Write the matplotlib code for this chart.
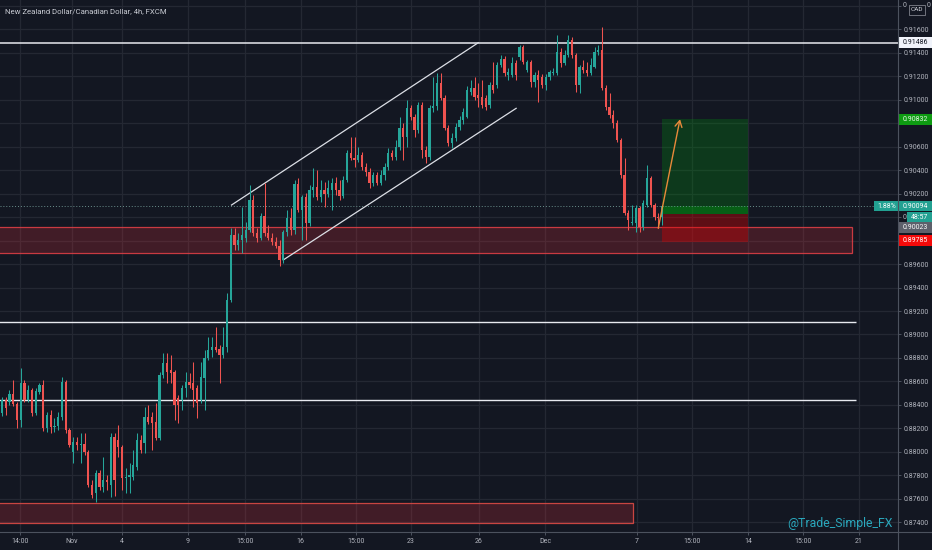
import matplotlib
matplotlib.use("Agg")
import matplotlib.pyplot as plt
from matplotlib.patches import Rectangle
from matplotlib.lines import Line2D
from matplotlib.transforms import blended_transform_factory

plt.rcParams['font.family'] = ['Roboto', 'DejaVu Sans']

# ---------------- data (4h candles, NZD/CAD) ----------------
opens = [
    0.88331, 0.88442, 0.88425, 0.88493, 0.88408, 0.88272, 0.88587, 0.88442, 0.88527, 0.88331,
    0.88510, 0.88570, 0.88203, 0.88314, 0.88212, 0.88220, 0.88297, 0.88595, 0.88186, 0.87999,
    0.88084, 0.88059, 0.88067, 0.87999, 0.87718, 0.87650, 0.87820, 0.87701, 0.87760, 0.87718,
    0.88127, 0.88101, 0.88042, 0.87777, 0.87786, 0.87786, 0.87871, 0.88101, 0.88076, 0.88297,
    0.88297, 0.88255, 0.88118, 0.88655, 0.88757, 0.88698, 0.88681, 0.88459, 0.88442, 0.88544,
    0.88595, 0.88587, 0.88544, 0.88442, 0.88629, 0.88800, 0.88868, 0.88894, 0.88877, 0.88825,
    0.88894, 0.89294, 0.89848, 0.89763, 0.89805, 0.89822, 0.89890, 0.90146, 0.89865, 0.89822,
    0.90010, 0.89865, 0.89822, 0.89788, 0.89754, 0.89635, 0.89873, 0.89993, 0.89890, 0.90282,
    0.90061, 0.90172, 0.89950, 0.90231, 0.90257, 0.90172, 0.90231, 0.90197, 0.90231, 0.90291,
    0.90231, 0.90180, 0.90316, 0.90546, 0.90504, 0.90487, 0.90529, 0.90427, 0.90385, 0.90291,
    0.90359, 0.90291, 0.90359, 0.90427, 0.90546, 0.90512, 0.90598, 0.90759, 0.90683, 0.90930,
    0.90853, 0.90742, 0.90955, 0.90572, 0.90512, 0.90930, 0.90947, 0.91143, 0.91015, 0.90759,
    0.90632, 0.90674, 0.90768, 0.90828, 0.90853, 0.91066, 0.91100, 0.91041, 0.91024, 0.91015,
    0.90955, 0.91126, 0.91126, 0.91296, 0.91347, 0.91211, 0.91211, 0.91313, 0.91364, 0.91450,
    0.91254, 0.91322, 0.91151, 0.91211, 0.91194, 0.91126, 0.91194, 0.91228, 0.91228, 0.91407,
    0.91313, 0.91381, 0.91509, 0.91381, 0.91126, 0.91279, 0.91254, 0.91228, 0.91279, 0.91407,
    0.91424, 0.91100, 0.90938, 0.90870, 0.90802, 0.90657, 0.90359, 0.90035, 0.89950, 0.89950,
    0.90078, 0.89916, 0.90103, 0.90333, 0.90103, 0.90001, 0.90001,
]
highs = [
    0.88468, 0.88468, 0.88527, 0.88612, 0.88425, 0.88715, 0.88612, 0.88570, 0.88544, 0.88544,
    0.88587, 0.88612, 0.88340, 0.88357, 0.88289, 0.88340, 0.88638, 0.88612, 0.88203, 0.88127,
    0.88127, 0.88161, 0.88161, 0.88016, 0.87760, 0.87846, 0.87846, 0.87956, 0.87803, 0.88161,
    0.88161, 0.88229, 0.88059, 0.87863, 0.87905, 0.88016, 0.88161, 0.88144, 0.88382, 0.88399,
    0.88340, 0.88416, 0.88681, 0.88842, 0.88842, 0.88825, 0.88698, 0.88485, 0.88570, 0.88681,
    0.88672, 0.88766, 0.88570, 0.88766, 0.88868, 0.88979, 0.88979, 0.89064, 0.88911, 0.89064,
    0.89354, 0.89907, 0.89907, 0.89865, 0.90086, 0.89959, 0.90274, 0.90189, 0.89907, 0.90035,
    0.90291, 0.89933, 0.89865, 0.89831, 0.89805, 0.89890, 0.90061, 0.90078, 0.90316, 0.90333,
    0.90189, 0.90206, 0.90274, 0.90419, 0.90402, 0.90316, 0.90299, 0.90316, 0.90333, 0.90342,
    0.90316, 0.90350, 0.90572, 0.90683, 0.90683, 0.90598, 0.90555, 0.90461, 0.90419, 0.90385,
    0.90385, 0.90402, 0.90461, 0.90589, 0.90572, 0.90657, 0.90853, 0.90802, 0.90998, 0.90955,
    0.90879, 0.90981, 0.90981, 0.90606, 0.90955, 0.91194, 0.91228, 0.91228, 0.91041, 0.90785,
    0.90717, 0.90802, 0.90862, 0.90930, 0.91117, 0.91168, 0.91194, 0.91143, 0.91168, 0.91041,
    0.91151, 0.91322, 0.91322, 0.91381, 0.91373, 0.91271, 0.91364, 0.91339, 0.91467, 0.91467,
    0.91339, 0.91339, 0.91237, 0.91254, 0.91220, 0.91220, 0.91254, 0.91271, 0.91552, 0.91441,
    0.91424, 0.91552, 0.91535, 0.91398, 0.91296, 0.91339, 0.91322, 0.91356, 0.91450, 0.91467,
    0.91620, 0.91126, 0.91058, 0.90913, 0.90828, 0.90674, 0.90504, 0.90061, 0.90103, 0.90103,
    0.90095, 0.90146, 0.90444, 0.90350, 0.90120, 0.90035, 0.90103,
]
lows = [
    0.88306, 0.88314, 0.88399, 0.88391, 0.88203, 0.88212, 0.88425, 0.88425, 0.88306, 0.88314,
    0.88493, 0.88178, 0.88169, 0.88161, 0.88169, 0.88186, 0.88272, 0.88161, 0.88042, 0.87905,
    0.88016, 0.87905, 0.87973, 0.87701, 0.87607, 0.87573, 0.87675, 0.87658, 0.87675, 0.87616,
    0.87624, 0.87956, 0.87675, 0.87650, 0.87650, 0.87760, 0.87846, 0.87990, 0.87990, 0.88238,
    0.88016, 0.88101, 0.88101, 0.88629, 0.88587, 0.88587, 0.88272, 0.88246, 0.88357, 0.88468,
    0.88544, 0.88382, 0.88289, 0.88416, 0.88357, 0.88783, 0.88808, 0.88851, 0.88587, 0.88800,
    0.88851, 0.89277, 0.89720, 0.89720, 0.89694, 0.89788, 0.89873, 0.89839, 0.89788, 0.89805,
    0.89839, 0.89805, 0.89763, 0.89737, 0.89584, 0.89609, 0.89839, 0.89848, 0.89856, 0.90044,
    0.89805, 0.89805, 0.89924, 0.90172, 0.90146, 0.90129, 0.90086, 0.90172, 0.90061, 0.90189,
    0.90146, 0.90163, 0.90299, 0.90487, 0.90427, 0.90470, 0.90402, 0.90350, 0.90248, 0.90265,
    0.90274, 0.90274, 0.90316, 0.90402, 0.90487, 0.90487, 0.90572, 0.90487, 0.90598, 0.90828,
    0.90683, 0.90717, 0.90504, 0.90461, 0.90487, 0.90896, 0.90913, 0.90998, 0.90742, 0.90606,
    0.90589, 0.90649, 0.90742, 0.90794, 0.90845, 0.91041, 0.90998, 0.90938, 0.90930, 0.90913,
    0.90930, 0.91058, 0.91100, 0.91279, 0.91202, 0.91168, 0.91194, 0.91168, 0.91339, 0.91305,
    0.91237, 0.91109, 0.91109, 0.90981, 0.91100, 0.91083, 0.91168, 0.91211, 0.91211, 0.91279,
    0.91296, 0.91364, 0.91356, 0.91066, 0.91058, 0.91228, 0.91202, 0.91211, 0.91271, 0.91381,
    0.91083, 0.90913, 0.90845, 0.90759, 0.90640, 0.90333, 0.90018, 0.89890, 0.89933, 0.89873,
    0.89873, 0.89890, 0.90086, 0.90086, 0.89976, 0.89907, 0.89933,
]
closes = [
    0.88442, 0.88374, 0.88493, 0.88408, 0.88272, 0.88587, 0.88442, 0.88527, 0.88331, 0.88519,
    0.88570, 0.88203, 0.88314, 0.88212, 0.88220, 0.88297, 0.88595, 0.88186, 0.88059, 0.88084,
    0.88059, 0.88067, 0.87999, 0.87718, 0.87633, 0.87820, 0.87701, 0.87760, 0.87743, 0.88127,
    0.87760, 0.88042, 0.87777, 0.87786, 0.87803, 0.87888, 0.88101, 0.88016, 0.88297, 0.88255,
    0.88246, 0.88118, 0.88655, 0.88757, 0.88681, 0.88672, 0.88399, 0.88399, 0.88544, 0.88595,
    0.88570, 0.88527, 0.88416, 0.88638, 0.88800, 0.88868, 0.88894, 0.88868, 0.88825, 0.88894,
    0.89294, 0.89848, 0.89763, 0.89805, 0.89848, 0.89890, 0.90146, 0.89865, 0.89822, 0.90010,
    0.89865, 0.89822, 0.89788, 0.89754, 0.89635, 0.89873, 0.89993, 0.89890, 0.90282, 0.90061,
    0.90172, 0.89950, 0.90231, 0.90257, 0.90172, 0.90231, 0.90197, 0.90248, 0.90291, 0.90231,
    0.90180, 0.90316, 0.90546, 0.90504, 0.90487, 0.90529, 0.90427, 0.90385, 0.90291, 0.90359,
    0.90291, 0.90359, 0.90427, 0.90546, 0.90512, 0.90598, 0.90759, 0.90683, 0.90930, 0.90853,
    0.90742, 0.90955, 0.90572, 0.90512, 0.90930, 0.90947, 0.91143, 0.91015, 0.90759, 0.90632,
    0.90674, 0.90768, 0.90828, 0.90896, 0.91083, 0.91100, 0.91024, 0.91015, 0.90955, 0.90938,
    0.91126, 0.91083, 0.91296, 0.91347, 0.91228, 0.91237, 0.91313, 0.91211, 0.91450, 0.91322,
    0.91322, 0.91151, 0.91211, 0.91168, 0.91126, 0.91194, 0.91237, 0.91237, 0.91407, 0.91313,
    0.91381, 0.91509, 0.91381, 0.91126, 0.91279, 0.91254, 0.91228, 0.91296, 0.91407, 0.91424,
    0.91100, 0.90938, 0.90870, 0.90802, 0.90657, 0.90359, 0.90035, 0.89976, 0.89959, 0.90078,
    0.89916, 0.90120, 0.90333, 0.90103, 0.90001, 0.89993, 0.90095,
]

title = "New Zealand Dollar/Canadian Dollar, 4h, FXCM"
watermark = "@Trade_Simple_FX"
time_tick_pos = [4.8, 18.7, 32.0, 49.6, 64.8, 79.7, 94.4, 109.1, 127.2, 144.8,
                 169.2, 184.0, 198.9, 213.7, 228.5]
time_tick_labels = ["14:00", "Nov", "4", "9", "15:00", "16", "15:00", "23", "26", "Dec",
                    "7", "15:00", "14", "15:00", "21"]
price_ticks = [0.874, 0.876, 0.878, 0.880, 0.882, 0.884, 0.886, 0.888, 0.890, 0.892,
               0.894, 0.896, 0.898, 0.900, 0.902, 0.904, 0.906, 0.908, 0.910, 0.912,
               0.914, 0.916, 0.918]
# tick labels hidden behind the coloured price-scale badges
covered_ticks = [0.898, 0.900, 0.908, 0.918]

resistance_level = 0.91486
support_levels = [0.89109, 0.88442]
support_end = 227.7
zone_upper = [0.89692, 0.89919]
zone_upper_end = 226.7
zone_lower = [0.87391, 0.87562]
zone_lower_end = 168.2
channel_upper_x = [61.2, 127.0]
channel_upper_y = [0.90103, 0.91486]
channel_lower_x = [75.0, 137.1]
channel_lower_y = [0.89635, 0.90927]
position_x = [175.9, 198.9]
entry_price = 0.90023
target_price = 0.90832
stop_price = 0.89785
last_price = 0.90094
change_pct = "1.88%"
countdown = "48:57"
arrow_x = [175.0, 180.8]
arrow_y = [0.89905, 0.90834]

# ---------------- style ----------------
BG = '#131722'
GRID = '#242833'
AXC = '#4c525e'
TXT = '#b2b5be'
UP = '#26a69a'
DN = '#ef5350'

W, H = 932, 550
PLOT_R, PLOT_B = 898, 532

fig = plt.figure(figsize=(W / 100, H / 100), dpi=100, facecolor=BG)
ax = fig.add_axes([0, (H - PLOT_B) / H, PLOT_R / W, PLOT_B / H])
ax.set_facecolor(BG)
ylo, yhi = 0.87317, 0.91850
ax.set_xlim(-0.533, 238.93)
ax.set_ylim(ylo, yhi)
ppx = (yhi - ylo) / PLOT_B  # price per pixel

# grid / ticks
ax.set_axisbelow(True)
ax.set_xticks(time_tick_pos)
ax.set_xticklabels(time_tick_labels)
ax.set_yticks(price_ticks)
ax.set_yticklabels(["" if any(abs(p - q) < 1e-9 for q in covered_ticks) else f"{p:.5f}"
                    for p in price_ticks])
ax.yaxis.tick_right()
ax.grid(True, color=GRID, lw=0.9)
ax.tick_params(axis='x', length=2.2, width=0.7, color=AXC, labelcolor=TXT,
               labelsize=5, pad=2.0)
ax.tick_params(axis='y', length=2.2, width=0.7, color=AXC, labelcolor=TXT,
               labelsize=5, pad=1.6)
for s in ['top', 'left', 'right', 'bottom']:
    ax.spines[s].set_visible(False)

# frame lines of the price / time scales
fig.add_artist(Line2D([0, 1], [(H - PLOT_B) / H] * 2, transform=fig.transFigure,
                      color=AXC, lw=0.8))
fig.add_artist(Line2D([PLOT_R / W] * 2, [0, 1], transform=fig.transFigure,
                      color=AXC, lw=0.8))

# zones
ax.add_patch(Rectangle((-5, zone_upper[0]), zone_upper_end + 5, zone_upper[1] - zone_upper[0],
                       facecolor=(0.78, 0.18, 0.22, 0.26), edgecolor=(0.90, 0.25, 0.28, 0.85),
                       lw=0.9, zorder=1))
ax.add_patch(Rectangle((-5, zone_lower[0]), zone_lower_end + 5, zone_lower[1] - zone_lower[0],
                       facecolor=(0.78, 0.18, 0.22, 0.26), edgecolor=(0.90, 0.30, 0.28, 0.85),
                       lw=0.9, zorder=1))

# position tool
pw = position_x[1] - position_x[0]
ax.add_patch(Rectangle((position_x[0], entry_price), pw, target_price - entry_price,
                       facecolor=(0.0, 0.58, 0.05, 0.28), edgecolor='none', zorder=1.2))
ax.add_patch(Rectangle((position_x[0], entry_price), pw, last_price - entry_price,
                       facecolor=(0.0, 0.60, 0.05, 0.40), edgecolor='none', zorder=1.3))
ax.add_patch(Rectangle((position_x[0], stop_price), pw, entry_price - stop_price,
                       facecolor=(0.85, 0.0, 0.0, 0.38), edgecolor='none', zorder=1.2))

# horizontal levels
ax.axhline(resistance_level, color='#e8eaf0', lw=1.1, zorder=2)
ax.hlines(support_levels, -1, support_end, color='#e8eaf0', lw=1.0, zorder=2)
ax.axhline(last_price, color='#6a8f8c', lw=0.7, ls=(0, (1, 2)), zorder=2)

# channel
ax.plot(channel_upper_x, channel_upper_y, color='#dcdfe6', lw=0.9, zorder=2)
ax.plot(channel_lower_x, channel_lower_y, color='#dcdfe6', lw=0.9, zorder=2)

# candles
idx = list(range(len(closes)))
cols = [UP if c >= o else DN for o, c in zip(opens, closes)]
ax.vlines(idx, lows, highs, colors=cols, lw=0.75, zorder=3)
bottoms = [min(o, c) for o, c in zip(opens, closes)]
heights = [max(abs(c - o), ppx * 0.9) for o, c in zip(opens, closes)]
ax.bar(idx, heights, bottom=bottoms, width=0.66, color=cols, linewidth=0, zorder=4)

# arrow
ax.annotate('', xy=(arrow_x[1], arrow_y[1]), xytext=(arrow_x[0], arrow_y[0]),
            arrowprops=dict(arrowstyle='->,head_length=0.45,head_width=0.25',
                            color='#e8893a', lw=1.0, shrinkA=0, shrinkB=0), zorder=5)

# price-scale labels
tr = blended_transform_factory(fig.transFigure, ax.transData)


def box(price, x0, x1, text, fc, tc, h_px=10.5, ec='none', fs=5):
    ax.add_patch(Rectangle((x0 / W, price - h_px * ppx / 2), (x1 - x0) / W, h_px * ppx,
                           transform=tr, facecolor=fc, edgecolor=ec, lw=0.5,
                           clip_on=False, zorder=10))
    ax.text((x0 + x1) / 2 / W, price, text, transform=tr, ha='center', va='center',
            color=tc, fontsize=fs, clip_on=False, zorder=11)


def frag(price, x, text, ha):
    ax.text(x / W, price, text, transform=tr, ha=ha, va='center', color=TXT,
            fontsize=5, clip_on=False, zorder=9)


box(resistance_level, 898.5, 932, f"{resistance_level:.5f}", '#f0f3fa', '#131722')
box(target_price, 898.5, 932, f"{target_price:.5f}", '#0e9b12', '#e9f7e9')
box(last_price, 898.5, 932, f"{last_price:.5f}", '#22a192', '#ffffff')
box(last_price, 874.3, 898.5, change_pct, '#22a192', '#ffffff')
box(last_price - 11 * ppx, 906.7, 932, countdown, '#22a192', '#ffffff')
box(entry_price - 13 * ppx, 898.5, 932, f"{entry_price:.5f}", '#5d606b', '#ffffff')
box(stop_price + 2 * ppx, 898.5, 932, f"{stop_price:.5f}", '#f50a0a', '#ffffff')
box(yhi - 9.5 * ppx, 908.7, 925, "CAD", BG, '#d1d4dc', h_px=10, ec='#9598a1', fs=4.6)
# visible remnants of the covered tick labels
frag(0.900, 902.6, "0", 'left')
frag(0.918, 902.6, "0", 'left')
frag(0.918, 930.5, "0", 'right')

# texts
fig.text(5 / W, 1 - 11 / H, title, color='#c8cbd3', fontsize=5.6, ha='left', va='center')
fig.text(893 / W, 1 - 523 / H, watermark, color='#2aa8bd', fontsize=8.8,
         ha='right', va='center')

fig.savefig('out.png', dpi=100, facecolor=BG)
